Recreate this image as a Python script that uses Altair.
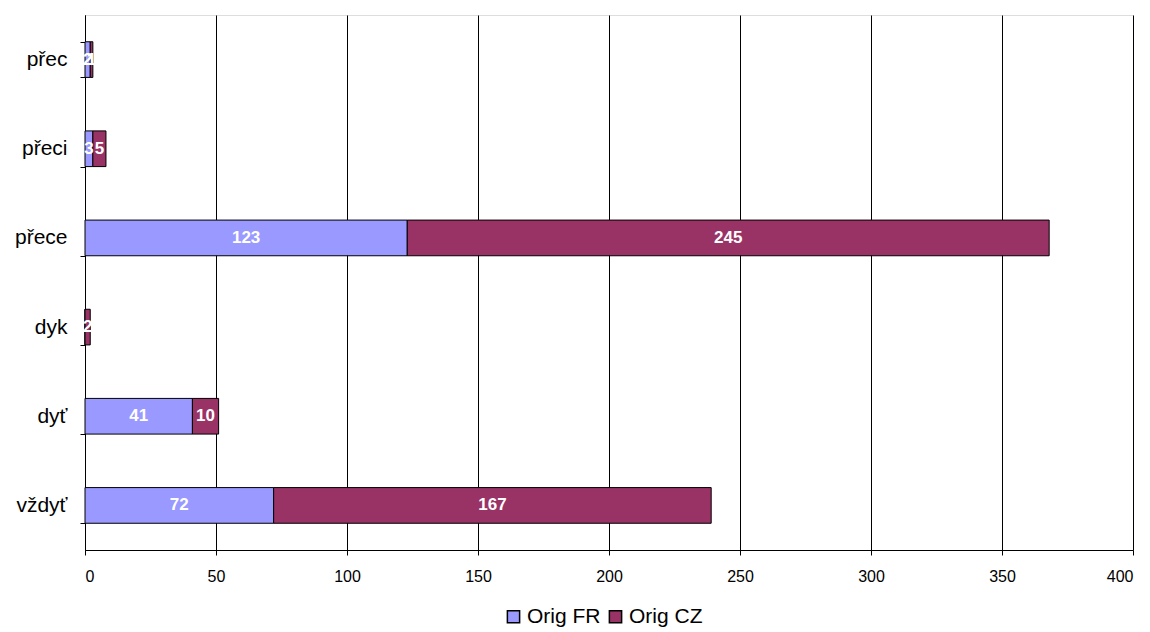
import altair as alt
import pandas as pd

categories = ["přec", "přeci", "přece", "dyk", "dyť", "vždyť"]
orig_fr = [2, 3, 123, 0, 41, 72]
orig_cz = [1, 5, 245, 2, 10, 167]
series = ["Orig FR", "Orig CZ"]
colors = ["#9999FF", "#993366"]

rows = []
for c, fr, cz in zip(categories, orig_fr, orig_cz):
    rows.append({"cat": c, "series": "Orig FR", "ord": 0, "value": fr})
    rows.append({"cat": c, "series": "Orig CZ", "ord": 1, "value": cz})
df = pd.DataFrame(rows)

yenc = alt.Y("cat:N", sort=categories, title=None,
             scale=alt.Scale(paddingInner=0.6, paddingOuter=0.3),
             axis=alt.Axis(labelFontSize=21, labelColor="black", labelFont="Liberation Sans",
                           tickBand="extent", tickColor="black", domainColor="black",
                           labelPadding=13, tickSize=5))
xenc = alt.X("value:Q", stack="zero", title=None,
             scale=alt.Scale(domain=[0, 400], nice=False),
             axis=alt.Axis(values=list(range(0, 401, 50)), labelFontSize=16, labelColor="black",
                           labelFont="Liberation Sans", grid=True, gridColor="black",
                           gridOpacity=1, domainColor="black", tickColor="black",
                           labelPadding=13, tickSize=5))

bars = alt.Chart(df).mark_bar(stroke="black", strokeWidth=1).encode(
    y=yenc,
    x=xenc,
    color=alt.Color("series:N", sort=series,
                    scale=alt.Scale(domain=series, range=colors),
                    legend=alt.Legend(orient="none", legendX=418, legendY=591,
                                      direction="horizontal", title=None,
                                      symbolType="square", symbolSize=150, symbolStrokeColor="black",
                                      symbolStrokeWidth=1.5, labelFontSize=21, labelColor="black",
                                      labelFont="Liberation Sans", symbolOpacity=1,
                                      columnPadding=4, labelOffset=3)),
    order=alt.Order("ord:Q"),
)

texts = alt.Chart(df).transform_filter("datum.value > 0").transform_stack(
    stack="value", groupby=["cat"], as_=["v0", "v1"], sort=[alt.SortField("ord")]
).transform_calculate(mid="(datum.v0 + datum.v1) / 2").mark_text(
    color="white", fontWeight="bold", fontSize=17, font="Liberation Sans"
).encode(
    y=alt.Y("cat:N", sort=categories),
    x=alt.X("mid:Q"),
    text=alt.Text("value:Q"),
)

chart = alt.layer(bars, texts).properties(
    width=1048, height=535,
    autosize=alt.AutoSizeParams(type="none"),
    padding={"left": 77, "top": 7, "right": 9, "bottom": 82},
).configure_view(
    fill="#C0C0C0", stroke="#808080", strokeWidth=2
).configure(background="white")

chart.save("out.html", embed_options={"renderer": "svg", "actions": False})
